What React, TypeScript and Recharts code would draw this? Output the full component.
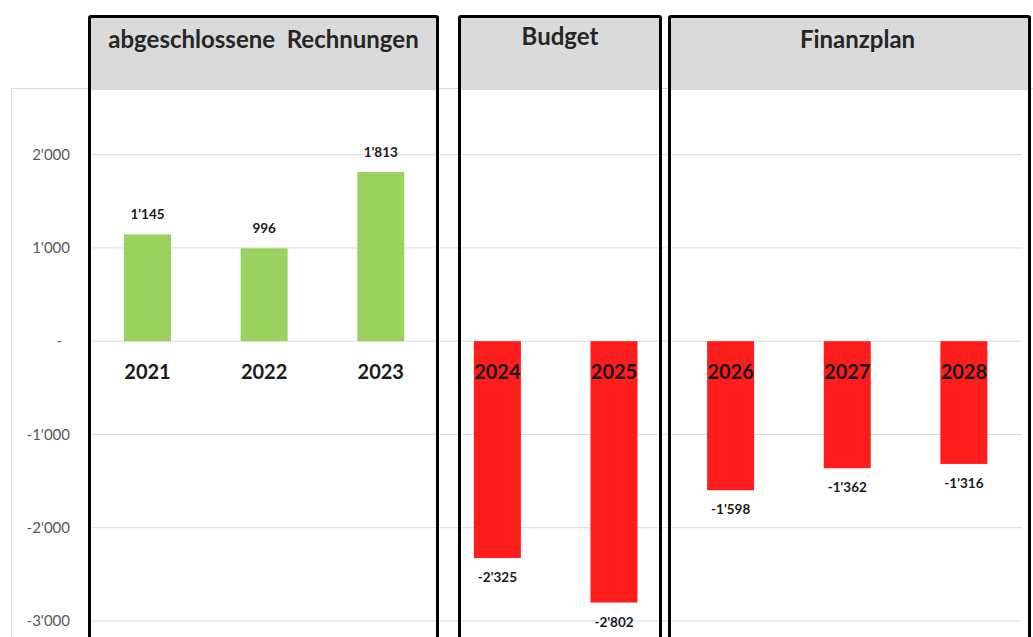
import React from "react";
import { BarChart, Bar, XAxis, YAxis, CartesianGrid } from "recharts";

const years = ["2021", "2022", "2023", "2024", "2025", "2026", "2027", "2028"];
const values = [1145, 996, 1813, -2325, -2802, -1598, -1362, -1316];
const yTicks = [-3000, -2000, -1000, 0, 1000, 2000];
const groupTitles = ["abgeschlossene  Rechnungen", "Budget", "Finanzplan"];

const GREEN = "#9ad25f";
const RED = "#fe1c1c";
const FONT = "Lato, 'Open Sans', sans-serif";

const data = years.map((year, i) => ({ year, value: values[i] }));

function fmt(n: number) {
  const s = Math.abs(n)
    .toString()
    .replace(/\B(?=(\d{3})+(?!\d))/g, "'");
  return n < 0 ? "-" + s : s;
}

function YTick(props: any) {
  const { x, y, payload } = props;
  const zero = payload.value === 0;
  return (
    <text
      x={zero ? x - 8 : x}
      y={y}
      dy="0.35em"
      textAnchor="end"
      fill="#595959"
      fontSize={15}
      fontFamily={FONT}
    >
      {zero ? "-" : fmt(payload.value)}
    </text>
  );
}

function BarShape(props: any) {
  const { x, y, width, height, payload } = props;
  const top = Math.min(y, y + height);
  const bottom = Math.max(y, y + height);
  const pos = payload.value >= 0;
  const zero = pos ? bottom : top;
  const cx = x + width / 2;
  return (
    <g>
      <rect x={x} y={top} width={width} height={bottom - top} fill={pos ? GREEN : RED} />
      <text
        x={cx}
        y={pos ? top - 20 : bottom + 19}
        dominantBaseline="central"
        textAnchor="middle"
        fontSize={13.5}
        fontWeight="bold"
        fill="#1a1a1a"
        fontFamily={FONT}
      >
        {fmt(payload.value)}
      </text>
      <text
        x={cx}
        y={zero + 30}
        dominantBaseline="central"
        textAnchor="middle"
        fontSize={20}
        fontWeight="bold"
        fill="#1a1a1a"
        fontFamily={FONT}
      >
        {payload.year}
      </text>
    </g>
  );
}

const boxStyle = (left: number, width: number): React.CSSProperties => ({
  position: "absolute",
  left,
  top: 15,
  width,
  height: 640,
  border: "3px solid #000",
  borderRadius: 3,
  boxSizing: "border-box",
  pointerEvents: "none",
});

const headStyle = (shift: number, pad: number): React.CSSProperties => ({
  height: 72,
  background: "#dadada",
  textAlign: "center",
  fontFamily: FONT,
  fontWeight: "bold",
  fontSize: 24,
  lineHeight: "28px",
  color: "#262626",
  paddingTop: pad,
  paddingLeft: shift,
  boxSizing: "border-box",
  whiteSpace: "pre",
});

export default function App() {
  return (
    <div
      style={{
        position: "absolute",
        left: 0,
        top: 0,
        width: 1033,
        height: 637,
        overflow: "hidden",
        background: "#fff",
      }}
    >
      <div
        style={{
          position: "absolute",
          left: 11,
          top: 88,
          width: 1040,
          height: 600,
          border: "1px solid #d9d9d9",
        }}
      />
      <div style={{ position: "absolute", left: 0, top: 0 }}>
        <BarChart
          width={1033}
          height={637}
          data={data}
          margin={{ top: 108, right: 11, bottom: 16, left: 0 }}
          barSize={47}
        >
          <CartesianGrid vertical={false} stroke="#dcdcdc" horizontalValues={yTicks} />
          <XAxis dataKey="year" hide />
          <YAxis
            width={89}
            domain={[-3000, 2500]}
            ticks={yTicks}
            axisLine={false}
            tickLine={false}
            tickSize={0}
            tickMargin={19}
            tick={<YTick />}
          />
          <Bar dataKey="value" shape={<BarShape />} isAnimationActive={false} />
        </BarChart>
      </div>
      <div style={boxStyle(88, 351)}>
        <div style={headStyle(0, 7)}>{groupTitles[0]}</div>
      </div>
      <div style={boxStyle(458, 204)}>
        <div style={headStyle(0, 4)}>{groupTitles[1]}</div>
      </div>
      <div style={boxStyle(668, 363)}>
        <div style={headStyle(16, 7)}>{groupTitles[2]}</div>
      </div>
    </div>
  );
}
